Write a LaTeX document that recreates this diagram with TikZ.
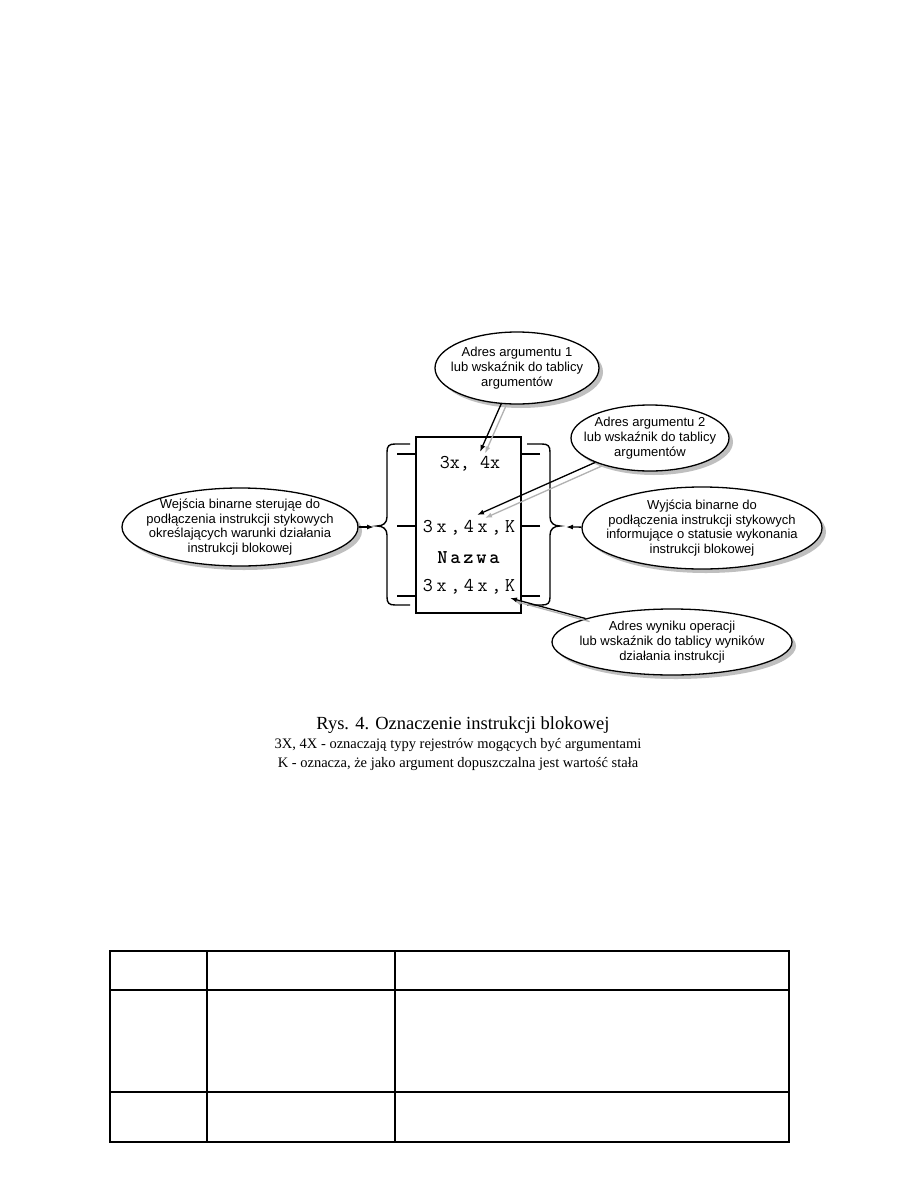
\documentclass[tikz,border=0pt]{standalone}
\usepackage{fontspec}
\setmainfont{Liberation Serif}
\setsansfont{Liberation Sans}
\usetikzlibrary{shapes.geometric,shadows,arrows.meta}
\newlength\chw
\newcommand\cw[1]{\makebox[\chw]{#1}}

\begin{document}
\begin{tikzpicture}[x=1pt,y=-1pt,
  bubble/.style={ellipse, draw, line width=1.3pt, fill=white, inner sep=0pt,
    drop shadow={shadow xshift=4pt, shadow yshift=-4pt, fill=black!25, opacity=1}},
  bubtext/.style={font=\sffamily\fontsize{13}{14.8}\selectfont, align=center, inner sep=0pt},
  arr/.style={line width=1.3pt, -{Latex[length=7pt,width=5pt]}},
  garr/.style={arr, draw=black!30, fill=black!30},
  mono/.style={font=\ttfamily\fontsize{19.5}{19.5}\selectfont, inner sep=0pt, anchor=base},
  monols/.style={font=\ttfamily\fontsize{19.5}{19.5}\selectfont\setlength\chw{13.7pt}, inner sep=0pt, anchor=base},
  monob/.style={font=\ttfamily\bfseries\fontsize{19.5}{19.5}\selectfont\setlength\chw{13pt}, inner sep=0pt, anchor=base},
  bracestyle/.style={line width=1.4pt},
  pin/.style={line width=1.6pt},
  tbl/.style={line width=1.2pt}]
\useasboundingbox (0,0) rectangle (918,1188);
\fill[white] (0,0) rectangle (918,1188);

% central block
\node[draw, line width=1.8pt, minimum width=105pt, minimum height=176pt, inner sep=0pt] (box) at (468.5,525) {};

% pins
\coordinate (pl1) at (397,454);
\coordinate (pl2) at (397,526);
\coordinate (pl3) at (397,596);
\coordinate (pr1) at (540,454);
\coordinate (pr2) at (540,526);
\coordinate (pr3) at (540,596);
\draw[pin] (pl1) -- (pl1 -| box.west);
\draw[pin] (pl2) -- (pl2 -| box.west);
\draw[pin] (pl3) -- (pl3 -| box.west);
\draw[pin] (pr1) -- (pr1 -| box.east);
\draw[pin] (pr2) -- (pr2 -| box.east);
\draw[pin] (pr3) -- (pr3 -| box.east);

% braces
\draw[bracestyle] (410,444) -- (395,444) .. controls (389,444) and (387,446) .. (387,452)
  -- (387,517) .. controls (387,523) and (383,526) .. (377,526)
  .. controls (383,526) and (387,529) .. (387,535)
  -- (387,597) .. controls (387,603) and (389,605) .. (395,605) -- (410,605);
\draw[bracestyle] (527,444) -- (542,444) .. controls (548,444) and (550,446) .. (550,452)
  -- (550,517) .. controls (550,523) and (554,526) .. (560,526)
  .. controls (554,526) and (550,529) .. (550,535)
  -- (550,597) .. controls (550,603) and (548,605) .. (542,605) -- (527,605);

% block texts
\node[mono] (l1) at (470,468) {3x, 4x};
\node[monols] (l2) at (469,532) {\cw3\cw x\cw,\cw4\cw x\cw,\cw K};
\node[monob] (l3) at (468.5,563) {\cw N\cw a\cw z\cw w\cw a};
\node[monols] (l4) at (469,591) {\cw3\cw x\cw,\cw4\cw x\cw,\cw K};

% bubbles
\node[bubble, minimum width=164pt, minimum height=72pt] (e1) at (517,368) {};
\node[bubtext] (t1) at (e1.center) {Adres argumentu 1\\lub wskaźnik do tablicy\\argumentów};

\node[bubble, minimum width=158pt, minimum height=66pt] (e2) at (650,438) {};
\node[bubtext] (t2) at (e2.center) {Adres argumentu 2\\lub wskaźnik do tablicy\\argumentów};

\node[bubble, minimum width=236pt, minimum height=78pt] (e3) at (240,527) {};
\node[bubtext] (t3) at (e3.center) {Wejścia binarne sterująe do\\podłączenia instrukcji stykowych\\określających warunki działania\\instrukcji blokowej};

\node[bubble, minimum width=240pt, minimum height=82pt] (e4) at (702,528) {};
\node[bubtext] (t4) at (e4.center) {Wyjścia binarne do\\podłączenia instrukcji stykowych\\informujące o statusie wykonania\\instrukcji blokowej};

\node[bubble, minimum width=240pt, minimum height=66pt] (e5) at (672,642) {};
\node[bubtext] (t5) at (e5.center) {Adres wyniku operacji\\lub wskaźnik do tablicy wyników\\działania instrukcji};

% arrows
\coordinate (a1e) at (480,452);
\coordinate (a2e) at (477,515);
\coordinate (a3e) at (510,598);
\coordinate (lt) at (374,527);
\coordinate (rt) at (566,527);
\draw[garr, transform canvas={shift={(5pt,-1.5pt)}}] (e1) -- (a1e);
\draw[arr] (e1) -- (a1e);
\draw[garr, transform canvas={shift={(8pt,-3pt)}}] (e2) -- (a2e);
\draw[arr] (e2) -- (a2e);
\draw[garr, transform canvas={shift={(4pt,-3pt)}}] (e5) -- (a3e);
\draw[arr] (e5) -- (a3e);
\draw[arr] (e3) -- (lt);
\draw[arr] (e4) -- (rt);

% caption
\node[font=\fontsize{18.5}{18.5}\selectfont, anchor=base, inner sep=0pt] (cap1) at (463,729) {Rys. 4. Oznaczenie instrukcji blokowej};
\node[font=\fontsize{14.5}{14.5}\selectfont, anchor=base, inner sep=0pt] (cap2) at (458,748) {3X, 4X - oznaczają typy rejestrów mogących być argumentami};
\node[font=\fontsize{14.5}{14.5}\selectfont, anchor=base, inner sep=0pt] (cap3) at (458,767) {K - oznacza, że jako argument dopuszczalna jest wartość stała};

% table
\draw[tbl] (110,951) rectangle (789,1142);
\draw[tbl] (207,951) -- (207,1142);
\draw[tbl] (395,951) -- (395,1142);
\draw[tbl] (110,990) -- (789,990);
\draw[tbl] (110,1092) -- (789,1092);
\end{tikzpicture}
\end{document}
